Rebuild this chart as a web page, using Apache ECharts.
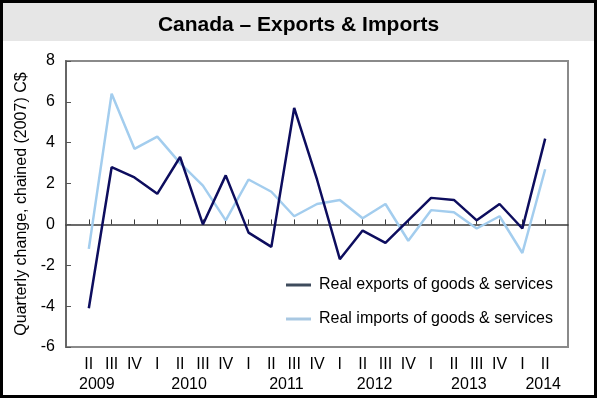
<!DOCTYPE html>
<html>
<head>
<meta charset="utf-8">
<script src="https://cdn.jsdelivr.net/npm/echarts@6/dist/echarts.min.js"></script>
<style>
html,body{margin:0;padding:0;background:#fff;}
#c{width:597px;height:398px;}
</style>
</head>
<body>
<div id="c"></div>
<script>
var quarters = ['II','III','IV','I','II','III','IV','I','II','III','IV','I','II','III','IV','I','II','III','IV','I','II'];
var yearLabels = ['2009','2010','2011','2012','2013','2014'];
var yearAt = [0,4,8,12,16,20];
var exportsData = [-4.1,2.8,2.3,1.5,3.3,0.0,2.4,-0.4,-1.1,5.7,2.2,-1.7,-0.3,-0.9,0.2,1.3,1.2,0.2,1.0,-0.2,4.2];
var importsData = [-1.2,6.4,3.7,4.3,3.0,1.9,0.2,2.2,1.6,0.4,1.0,1.2,0.3,1.0,-0.8,0.7,0.6,-0.2,0.4,-1.4,2.7];
var yTicks = [-6,-4,-2,0,2,4,6,8];

// layout-only: horizontal nudge (px) of each year label relative to its tick
var yearShift = [8, 9, 15, 12, 15, -2];

var cats = [''].concat(quarters.map(function(q,i){ return i + '|' + q; })).concat(['']);
function pad(a){ return [null].concat(a).concat([null]); }
var FONT = '"Liberation Sans", Arial, sans-serif';

var rich = {q: {fontSize: 16, fontFamily: FONT, color: '#000', lineHeight: 20}};
yearShift.forEach(function(s, k){
  rich['y' + k] = {fontSize: 16, fontFamily: FONT, color: '#000', lineHeight: 20,
    padding: s >= 0 ? [0,0,0,2*s] : [0,-2*s,0,0]};
});

var chart = echarts.init(document.getElementById('c'));
chart.setOption({
  animation: false,
  textStyle: {fontFamily: FONT},
  graphic: [
    {type:'rect', z:-10, shape:{x:3,y:3,width:591,height:38}, style:{fill:'#e6e6e6'}},
    {type:'rect', z:100, shape:{x:1.5,y:1.5,width:594,height:395}, style:{fill:null, stroke:'#000', lineWidth:3}}
  ],
  title: {
    text: 'Canada – Exports & Imports',
    left: 'center', top: 10,
    textStyle: {fontFamily: FONT, fontSize: 21, fontWeight: 'bold', color: '#000'}
  },
  grid: {left: 66, right: 29, top: 61, bottom: 51, show: true, borderColor: '#8a8a8a', borderWidth: 2, containLabel: false},
  legend: {
    orient: 'vertical', left: 281, top: 272, itemWidth: 25, itemHeight: 3, itemGap: 18,
    textStyle: {fontFamily: FONT, fontSize: 16, color: '#000', padding: [0,0,0,3]},
    data: [
      {name: 'Real exports of goods & services', icon: 'rect', itemStyle: {color: '#3e4b5c'}},
      {name: 'Real imports of goods & services', icon: 'rect', itemStyle: {color: '#a9c8e2'}}
    ]
  },
  xAxis: [
    {
      type: 'category', data: cats, boundaryGap: false,
      axisLine: {onZero: true, lineStyle: {color: '#3a3a3a', width: 1.5}},
      axisTick: {show: true, inside: true, length: 5, lineStyle: {color: '#3a3a3a'},
        interval: function(i){ return i > 0 && i < cats.length - 1; }},
      axisLabel: {show: false},
      splitLine: {show: false}
    },
    {
      type: 'category', data: cats, boundaryGap: false, position: 'bottom',
      axisLine: {show: false, onZero: false}, axisTick: {show: false},
      axisLabel: {
        interval: 0, margin: 8, color: '#000', fontSize: 16, fontFamily: FONT, lineHeight: 20,
        formatter: function(v){
          if (!v) return '';
          var p = v.split('|'); var i = +p[0];
          var k = yearAt.indexOf(i);
          if (k < 0) return '{q|' + p[1] + '}';
          return '{q|' + p[1] + '}\n{y' + k + '|' + yearLabels[k] + '}';
        },
        rich: rich
      },
      splitLine: {show: false}
    }
  ],
  yAxis: {
    type: 'value', min: -6, max: 8, interval: 2,
    name: 'Quarterly change, chained (2007) C$', nameLocation: 'middle', nameRotate: 90, nameGap: 35,
    nameTextStyle: {fontFamily: FONT, fontSize: 16, color: '#000'},
    axisLine: {show: true, lineStyle: {color: '#666', width: 2}},
    axisTick: {show: true, inside: true, length: 5, lineStyle: {color: '#555'}},
    axisLabel: {color: '#000', fontSize: 16, fontFamily: FONT, margin: 11,
      formatter: function(v){ return yTicks.indexOf(v) >= 0 ? String(v) : ''; }},
    splitLine: {show: false}
  },
  series: [
    {name: 'Real exports of goods & services', type: 'line', xAxisIndex: 0, data: pad(exportsData),
      symbol: 'none', connectNulls: false, lineStyle: {color: '#0d0d5e', width: 2.5}, itemStyle: {color: '#0d0d5e'}, z: 3},
    {name: 'Real imports of goods & services', type: 'line', xAxisIndex: 0, data: pad(importsData),
      symbol: 'none', connectNulls: false, lineStyle: {color: '#a3cdee', width: 2.5}, itemStyle: {color: '#a3cdee'}, z: 2}
  ]
});
</script>
</body>
</html>
